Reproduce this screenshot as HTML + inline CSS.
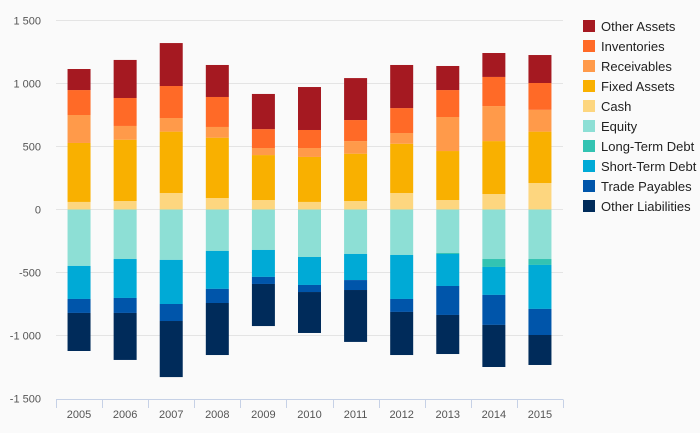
<!DOCTYPE html>
<html><head><meta charset="utf-8"><style>
html,body{margin:0;padding:0;background:#fafafa;}
svg{display:block;font-family:"Liberation Sans","DejaVu Sans",sans-serif;}
</style></head><body>
<svg id="chart" width="700" height="433"></svg>
<script>
const categories = ["2005","2006","2007","2008","2009","2010","2011","2012","2013","2014","2015"];
const otherAssets = [167,302,341,254,279,341,333,342,191,190,222];
const inventories = [198,222,254,238,150,143,167,198,214,231,213];
const receivables = [222,109,108,85,56,71,100,85,270,278,173];
const fixedAssets = [468,487,487,479,357,357,376,391,389,420,408];
const cash = [60,67,131,91,75,60,67,131,75,123,210];
const equity = [448,393,400,329,321,377,353,361,345,393,393];
const longTermDebt = [0,0,0,0,0,0,0,0,8,63,47];
const shortTermDebt = [262,309,350,301,214,222,207,349,254,222,349];
const tradePayables = [111,119,135,112,56,56,79,103,230,238,207];
const otherLiabilities = [302,373,445,413,334,325,412,342,310,334,238];
const yTicks = [1500,1000,500,0,-500,-1000,-1500];
const yTickLabels = ["1 500","1 000","500","0","-500","-1 000","-1 500"];

const assetSeries = [
  {name:"Cash",vals:cash,color:"#fdd67f",key:"cash"},
  {name:"Fixed Assets",vals:fixedAssets,color:"#f9b000",key:"fixed-assets"},
  {name:"Receivables",vals:receivables,color:"#ff9a4a",key:"receivables"},
  {name:"Inventories",vals:inventories,color:"#ff6a27",key:"inventories"},
  {name:"Other Assets",vals:otherAssets,color:"#a51921",key:"other-assets"}];
const liabSeries = [
  {name:"Equity",vals:equity,color:"#8ddfd5",key:"equity"},
  {name:"Long-Term Debt",vals:longTermDebt,color:"#33c3b2",key:"long-term-debt"},
  {name:"Short-Term Debt",vals:shortTermDebt,color:"#00aad6",key:"short-term-debt"},
  {name:"Trade Payables",vals:tradePayables,color:"#0055aa",key:"trade-payables"},
  {name:"Other Liabilities",vals:otherLiabilities,color:"#002b5a",key:"other-liabilities"}];

const NS="http://www.w3.org/2000/svg";
const svg=document.getElementById('chart');
const x0=56,x1=563,yZero=209.5,pxPer=63/500;
const step=(x1-x0)/categories.length, barW=23;
function yScale(v){return yZero - v*pxPer;}
function xCenter(i){return x0+step*(i+0.5);}
function mk(tag,attrs){const e=document.createElementNS(NS,tag);for(const k in attrs)e.setAttribute(k,attrs[k]);svg.appendChild(e);return e;}

yTicks.forEach((t,i)=>{
  if(t!==-1500){
    const g=mk('line',{x1:x0,x2:x1,y1:yScale(t),y2:yScale(t),stroke:'#e4e4e4','stroke-width':1});
    
    
  }
  const l=mk('text',{x:41,y:yScale(t)+4,'text-anchor':'end','font-size':11,fill:'#555'});
  l.textContent=yTickLabels[i];
  
  
});

categories.forEach((c,i)=>{
  const bx=xCenter(i)-barW/2;
  let acc=0;
  assetSeries.forEach(s=>{
    const v=s.vals[i]; if(v<=0)return;
    const r=mk('rect',{x:bx,y:yScale(acc+v),width:barW,height:v*pxPer,fill:s.color});
    
    
    acc+=v;
  });
  acc=0;
  liabSeries.forEach(s=>{
    const v=s.vals[i]; if(v<=0)return;
    const r=mk('rect',{x:bx,y:yScale(acc),width:barW,height:v*pxPer,fill:s.color});
    
    
    acc-=v;
  });
  const t=mk('text',{x:xCenter(i),y:418,'text-anchor':'middle','font-size':11,fill:'#555'});
  t.textContent=c;
  
  
});

const axis=mk('line',{x1:x0,x2:x1,y1:399.5,y2:399.5,stroke:'#c6d1e6','stroke-width':1});


for(let i=0;i<=categories.length;i++){
  const tx=Math.round(x0+step*i)+0.5;
  const tk=mk('line',{x1:tx,x2:tx,y1:399.5,y2:408,stroke:'#c6d1e6','stroke-width':1});
  
  
}

const legendItems=[assetSeries[4],assetSeries[3],assetSeries[2],assetSeries[1],assetSeries[0],...liabSeries];
legendItems.forEach((s,i)=>{
  const y=20+i*20;
  const sq=mk('rect',{x:583,y:y,width:12,height:12,fill:s.color});
  
  
  const t=mk('text',{x:601,y:y+11,'font-size':13,fill:'#222'});
  t.textContent=s.name;
  
  
});
</script>
</body></html>
